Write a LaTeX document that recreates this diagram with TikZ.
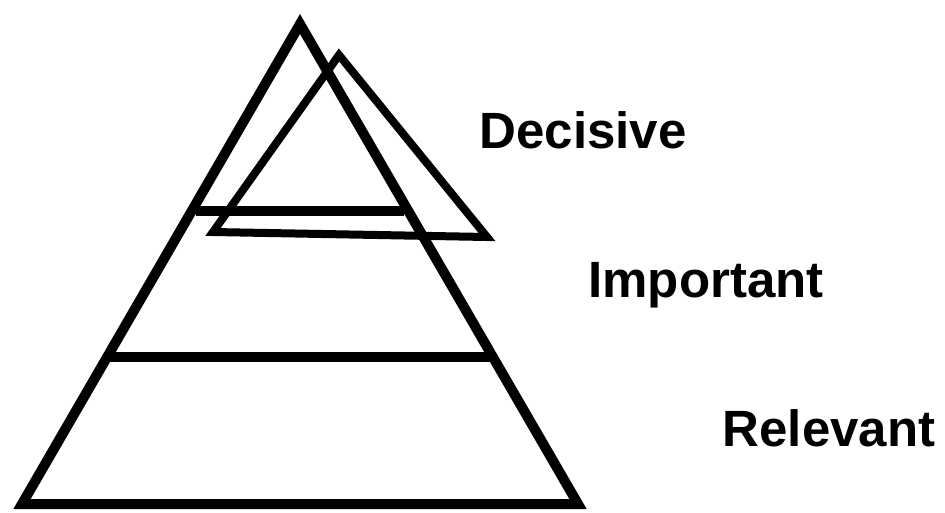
\documentclass[tikz,border=0pt]{standalone}
\usepackage{fontspec}
\setmainfont{Liberation Sans}
\begin{document}
\begin{tikzpicture}[x=1pt,y=-1pt,
  edge/.style={line width=10pt,line join=miter,black},
  lbl/.style={font=\fontsize{51}{60}\selectfont\bfseries,anchor=base,inner sep=0pt}]
\useasboundingbox (0,0) rectangle (945,512);
\coordinate (A) at (300,24);
\coordinate (L) at (22,504);
\coordinate (R) at (578,504);
\coordinate (m1l) at (196,211);
\coordinate (m1r) at (404,211);
\coordinate (m2l) at (110,357);
\coordinate (m2r) at (491,357);
\coordinate (B) at (339,55);
\coordinate (BL) at (213,232);
\coordinate (BR) at (487,237);
\draw[edge] (A) -- (L) -- (R) -- cycle;
\draw[edge] (m1l) -- (m1r);
\draw[edge] (m2l) -- (m2r);
\draw[edge,line width=8pt] (B) -- (BL) -- (BR) -- cycle;
\node[lbl] (d) at (583,148) {Decisive};
\node[lbl] (i) at (706,297) {Important};
\node[lbl] (r) at (829,446) {Relevant};
\end{tikzpicture}
\end{document}
